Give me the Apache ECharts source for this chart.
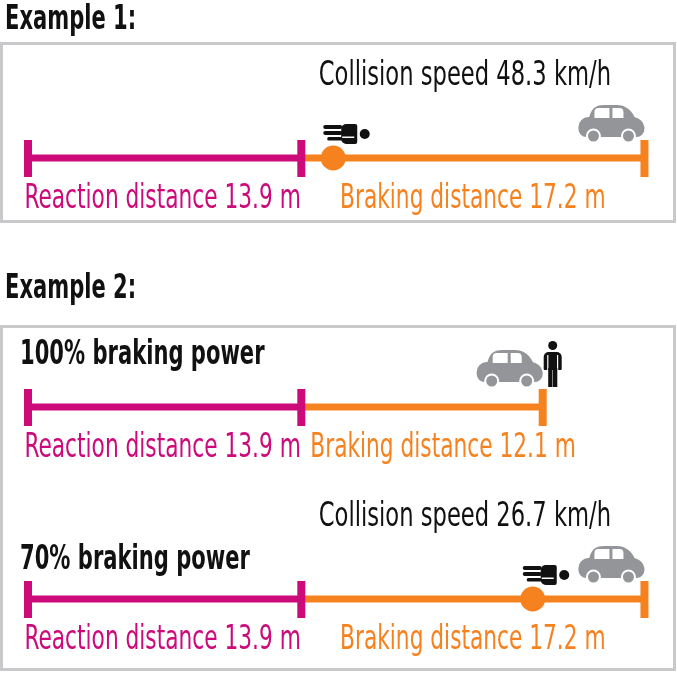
<!DOCTYPE html>
<html>
<head>
<meta charset="utf-8">
<script src="https://cdn.jsdelivr.net/npm/echarts@6/dist/echarts.min.js"></script>
<style>
  html, body { margin: 0; padding: 0; background: #fff; }
  #chart { width: 677px; height: 674px; }
</style>
</head>
<body>
<div id="chart"></div>
<script>
// rows: one line per scenario
var rowNames = ['Example 1', '100% braking power', '70% braking power'];
var reactionDistance = [13.9, 13.9, 13.9];   // m
var brakingDistance = [17.2, 12.1, 17.2];    // m
var collisionAt = [15.5, null, 25.5];        // m from start, null = no collision
var collisionSpeed = [48.3, null, 26.7];     // km/h

var MAGENTA = '#cc0a7a';
var ORANGE = '#f5821f';
var GREY = '#939598';
var FONT = '"Liberation Sans Narrow", "DejaVu Sans Condensed", "Liberation Sans", sans-serif';
var SX = 0.71;

var lineY = [158, 407, 599];

var chart = echarts.init(document.getElementById('chart'));

function car(x, y) {
  // x,y = bottom-right corner of the car
  var ox = x - 66, oy = y - 38;
  return {
    type: 'group', x: ox, y: oy,
    children: [
      { type: 'path', shape: { pathData: 'M10,16 C12,4 16,0 26,0 L38,0 C48,0 54,6 58,16 Z' }, style: { fill: GREY } },
      { type: 'rect', shape: { x: 0, y: 12, width: 66, height: 20, r: [10, 12, 8, 8] }, style: { fill: GREY } },
      { type: 'rect', shape: { x: 16, y: 3, width: 15, height: 10, r: [4, 0, 0, 0] }, style: { fill: '#fff' } },
      { type: 'rect', shape: { x: 34, y: 3, width: 11, height: 10, r: [0, 4, 0, 0] }, style: { fill: '#fff' } },
      { type: 'circle', shape: { cx: 15, cy: 31, r: 6.5 }, style: { fill: GREY, stroke: '#fff', lineWidth: 2 } },
      { type: 'circle', shape: { cx: 50, cy: 31, r: 6.5 }, style: { fill: GREY, stroke: '#fff', lineWidth: 2 } }
    ]
  };
}

function lyingPerson(x, y) {
  // x,y = left-top corner
  return {
    type: 'group', x: x, y: y,
    children: [
      { type: 'rect', shape: { x: 0, y: 1, width: 19, height: 4, r: 2 }, style: { fill: '#111' } },
      { type: 'rect', shape: { x: 0, y: 7, width: 19, height: 4, r: 2 }, style: { fill: '#111' } },
      { type: 'rect', shape: { x: 4, y: 13, width: 15, height: 3.5, r: 1.5 }, style: { fill: '#111' } },
      { type: 'rect', shape: { x: 18, y: 0, width: 16, height: 20, r: [5, 2, 2, 5] }, style: { fill: '#111' } },
      { type: 'rect', shape: { x: 19, y: 12.5, width: 12, height: 1.5 }, style: { fill: '#fff' } },
      { type: 'circle', shape: { cx: 41.5, cy: 10, r: 5 }, style: { fill: '#111' } }
    ]
  };
}

function standingPerson(x, y) {
  // x,y = left-top corner
  return {
    type: 'group', x: x, y: y,
    children: [
      { type: 'circle', shape: { cx: 11, cy: 4.5, r: 4.5 }, style: { fill: '#111' } },
      { type: 'rect', shape: { x: 2, y: 11, width: 18, height: 18, r: [5, 5, 1, 1] }, style: { fill: '#111' } },
      { type: 'rect', shape: { x: 5.5, y: 14, width: 1.2, height: 15 }, style: { fill: '#fff' } },
      { type: 'rect', shape: { x: 15.3, y: 14, width: 1.2, height: 15 }, style: { fill: '#fff' } },
      { type: 'rect', shape: { x: 6.5, y: 27, width: 4.3, height: 19 }, style: { fill: '#111' } },
      { type: 'rect', shape: { x: 11.3, y: 27, width: 4.3, height: 19 }, style: { fill: '#111' } }
    ]
  };
}

function label(text, x, y, color, align) {
  return {
    type: 'text', x: x, y: y, scaleX: SX,
    style: { text: text, x: 0, y: 0, fill: color, font: '34px ' + FONT, align: align || 'left', verticalAlign: 'middle' }
  };
}

function renderRow(i) {
  return function (params, api) {
    var p0 = api.coord([0, 0]);
    var p1 = api.coord([reactionDistance[i], 0]);
    var p2 = api.coord([reactionDistance[i] + brakingDistance[i], 0]);
    var y = p0[1];
    var children = [
      { type: 'rect', shape: { x: p1[0], y: y - 3.5, width: p2[0] - p1[0], height: 7 }, style: { fill: ORANGE } },
      { type: 'rect', shape: { x: p2[0] - 4, y: y - 18, width: 8, height: 37 }, style: { fill: ORANGE } },
      { type: 'rect', shape: { x: p0[0], y: y - 3.5, width: p1[0] - p0[0], height: 7 }, style: { fill: MAGENTA } },
      { type: 'rect', shape: { x: p0[0], y: y - 18, width: 8, height: 37 }, style: { fill: MAGENTA } },
      { type: 'rect', shape: { x: p1[0] - 4, y: y - 18, width: 8, height: 37 }, style: { fill: MAGENTA } }
    ];
    children.push(label('Reaction distance ' + reactionDistance[i] + ' m', (p0[0] + p1[0]) / 2, y + 41, MAGENTA, 'center'));
    var bText = 'Braking distance ' + brakingDistance[i] + ' m';
    if (p2[0] - p1[0] > 280) {
      children.push(label(bText, (p1[0] + p2[0]) / 2, y + 41, ORANGE, 'center'));
    } else {
      children.push(label(bText, p1[0] + 9, y + 41, ORANGE, 'left'));
    }
    if (collisionAt[i] != null) {
      var c = api.coord([collisionAt[i], 0]);
      children.push({ type: 'circle', shape: { cx: c[0], cy: y, r: 12.5 }, style: { fill: ORANGE } });
      children.push(lyingPerson(c[0] - 10, y - 34));
      children.push(car(p2[0], y - 15));
      children.push({
        type: 'text', x: (p1[0] + p2[0]) / 2 - 8, y: y - 82, scaleX: 0.74,
        style: { text: 'Collision speed ' + collisionSpeed[i] + ' km/h', x: 0, y: 0, fill: '#111', font: '34px ' + FONT, align: 'center', verticalAlign: 'middle' }
      });
    } else {
      children.push(car(p2[0], y - 19));
      children.push(standingPerson(p2[0] - 1, y - 66));
    }
    return { type: 'group', children: children };
  };
}

var grids = [], xAxes = [], yAxes = [], series = [];
rowNames.forEach(function (name, i) {
  grids.push({ left: 24, top: lineY[i] - 20, width: 638.4, height: 40 });
  xAxes.push({ type: 'value', gridIndex: i, min: 0, max: 32, show: false });
  yAxes.push({ type: 'value', gridIndex: i, min: -1, max: 1, show: false });
  series.push({
    type: 'custom', name: name, xAxisIndex: i, yAxisIndex: i,
    data: [[0, 0]], renderItem: renderRow(i), silent: true
  });
});

var boxStyle = { fill: 'none', stroke: '#c9c9cb', lineWidth: 3 };
var headFont = 'bold 33px ' + FONT;

chart.setOption({
  animation: false,
  grid: grids,
  xAxis: xAxes,
  yAxis: yAxes,
  graphic: [
    { type: 'rect', shape: { x: 1.5, y: 43.5, width: 673, height: 178 }, style: boxStyle },
    { type: 'rect', shape: { x: 1.5, y: 326.5, width: 673, height: 343 }, style: boxStyle },
    { type: 'text', x: 5, y: 20, scaleX: SX, style: { text: 'Example 1:', x: 0, y: 0, fill: '#111', font: headFont, verticalAlign: 'middle' } },
    { type: 'text', x: 5, y: 289, scaleX: SX, style: { text: 'Example 2:', x: 0, y: 0, fill: '#111', font: headFont, verticalAlign: 'middle' } },
    { type: 'text', x: 20, y: 355, scaleX: SX, style: { text: rowNames[1], x: 0, y: 0, fill: '#111', font: headFont, verticalAlign: 'middle' } },
    { type: 'text', x: 20, y: 560, scaleX: SX, style: { text: rowNames[2], x: 0, y: 0, fill: '#111', font: headFont, verticalAlign: 'middle' } }
  ],
  series: series
});
</script>
</body>
</html>
